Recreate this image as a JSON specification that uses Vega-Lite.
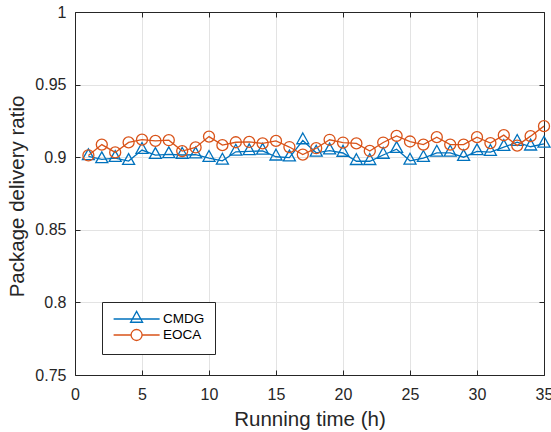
{
  "$schema": "https://vega.github.io/schema/vega-lite/v6.json",
  "width": 469,
  "height": 363,
  "autosize": "none",
  "padding": {"left": 75, "top": 12, "right": 7, "bottom": 57},
  "background": "white",
  "config": {
    "font": "Liberation Sans",
    "view": {"stroke": null},
    "axis": {
      "domainColor": "#262626",
      "domainWidth": 1,
      "tickColor": "#262626",
      "tickWidth": 1,
      "tickSize": -5,
      "labelColor": "#262626",
      "labelFont": "Liberation Sans",
      "labelFontSize": 16,
      "labelFlush": false,
      "titleFont": "Liberation Sans",
      "titleFontSize": 20.5,
      "titleFontWeight": "normal",
      "titleColor": "#262626",
      "gridColor": "#e3e3e3",
      "gridWidth": 1
    }
  },
  "data": {
    "values": [
      {"t": 1, "series": "CMDG", "ratio": 0.9005},
      {"t": 2, "series": "CMDG", "ratio": 0.8985},
      {"t": 3, "series": "CMDG", "ratio": 0.8993},
      {"t": 4, "series": "CMDG", "ratio": 0.8973},
      {"t": 5, "series": "CMDG", "ratio": 0.9049},
      {"t": 6, "series": "CMDG", "ratio": 0.9014},
      {"t": 7, "series": "CMDG", "ratio": 0.9019},
      {"t": 8, "series": "CMDG", "ratio": 0.9015},
      {"t": 9, "series": "CMDG", "ratio": 0.9017},
      {"t": 10, "series": "CMDG", "ratio": 0.8994},
      {"t": 11, "series": "CMDG", "ratio": 0.8975},
      {"t": 12, "series": "CMDG", "ratio": 0.9037},
      {"t": 13, "series": "CMDG", "ratio": 0.904},
      {"t": 14, "series": "CMDG", "ratio": 0.9043},
      {"t": 15, "series": "CMDG", "ratio": 0.9003},
      {"t": 16, "series": "CMDG", "ratio": 0.8997},
      {"t": 17, "series": "CMDG", "ratio": 0.9115},
      {"t": 18, "series": "CMDG", "ratio": 0.903},
      {"t": 19, "series": "CMDG", "ratio": 0.9045},
      {"t": 20, "series": "CMDG", "ratio": 0.9029},
      {"t": 21, "series": "CMDG", "ratio": 0.8972},
      {"t": 22, "series": "CMDG", "ratio": 0.8972},
      {"t": 23, "series": "CMDG", "ratio": 0.9015},
      {"t": 24, "series": "CMDG", "ratio": 0.9055},
      {"t": 25, "series": "CMDG", "ratio": 0.8975},
      {"t": 26, "series": "CMDG", "ratio": 0.8994},
      {"t": 27, "series": "CMDG", "ratio": 0.903},
      {"t": 28, "series": "CMDG", "ratio": 0.903},
      {"t": 29, "series": "CMDG", "ratio": 0.9},
      {"t": 30, "series": "CMDG", "ratio": 0.904},
      {"t": 31, "series": "CMDG", "ratio": 0.9035},
      {"t": 32, "series": "CMDG", "ratio": 0.9069},
      {"t": 33, "series": "CMDG", "ratio": 0.9104},
      {"t": 34, "series": "CMDG", "ratio": 0.9072},
      {"t": 35, "series": "CMDG", "ratio": 0.9092},
      {"t": 1, "series": "EOCA", "ratio": 0.9012},
      {"t": 2, "series": "EOCA", "ratio": 0.9087},
      {"t": 3, "series": "EOCA", "ratio": 0.9033},
      {"t": 4, "series": "EOCA", "ratio": 0.9102},
      {"t": 5, "series": "EOCA", "ratio": 0.9121},
      {"t": 6, "series": "EOCA", "ratio": 0.9112},
      {"t": 7, "series": "EOCA", "ratio": 0.9117},
      {"t": 8, "series": "EOCA", "ratio": 0.9042},
      {"t": 9, "series": "EOCA", "ratio": 0.9067},
      {"t": 10, "series": "EOCA", "ratio": 0.9142},
      {"t": 11, "series": "EOCA", "ratio": 0.9083},
      {"t": 12, "series": "EOCA", "ratio": 0.9103},
      {"t": 13, "series": "EOCA", "ratio": 0.9105},
      {"t": 14, "series": "EOCA", "ratio": 0.9095},
      {"t": 15, "series": "EOCA", "ratio": 0.9112},
      {"t": 16, "series": "EOCA", "ratio": 0.907},
      {"t": 17, "series": "EOCA", "ratio": 0.9018},
      {"t": 18, "series": "EOCA", "ratio": 0.9062},
      {"t": 19, "series": "EOCA", "ratio": 0.912},
      {"t": 20, "series": "EOCA", "ratio": 0.9101},
      {"t": 21, "series": "EOCA", "ratio": 0.9095},
      {"t": 22, "series": "EOCA", "ratio": 0.9043},
      {"t": 23, "series": "EOCA", "ratio": 0.9101},
      {"t": 24, "series": "EOCA", "ratio": 0.9147},
      {"t": 25, "series": "EOCA", "ratio": 0.9108},
      {"t": 26, "series": "EOCA", "ratio": 0.9087},
      {"t": 27, "series": "EOCA", "ratio": 0.9138},
      {"t": 28, "series": "EOCA", "ratio": 0.9087},
      {"t": 29, "series": "EOCA", "ratio": 0.9087},
      {"t": 30, "series": "EOCA", "ratio": 0.9138},
      {"t": 31, "series": "EOCA", "ratio": 0.9097},
      {"t": 32, "series": "EOCA", "ratio": 0.9152},
      {"t": 33, "series": "EOCA", "ratio": 0.908},
      {"t": 34, "series": "EOCA", "ratio": 0.9145},
      {"t": 35, "series": "EOCA", "ratio": 0.9214}
    ]
  },
  "layer": [
    {
      "encoding": {
        "x": {
          "field": "t", "type": "quantitative",
          "scale": {"domain": [0, 35], "nice": false, "zero": false},
          "axis": {"orient": "bottom", "values": [0, 5, 10, 15, 20, 25, 30, 35], "format": "d", "grid": true, "labelPadding": 16, "title": "Running time (h)", "titleX": 234.5, "titleY": 50, "titleBaseline": "alphabetic", "titleAnchor": null}
        },
        "y": {
          "field": "ratio", "type": "quantitative",
          "scale": {"domain": [0.75, 1], "nice": false, "zero": false},
          "axis": {"orient": "left", "values": [0.75, 0.8, 0.85, 0.9, 0.95, 1], "format": "~g", "grid": true, "labelPadding": 14, "title": "Package delivery ratio", "titleX": -52, "titleY": 184, "titleAngle": -90, "titleBaseline": "alphabetic", "titleAlign": "center"}
        }
      },
      "layer": [
        {
          "transform": [{"filter": "datum.series == 'CMDG'"}],
          "mark": {"type": "line", "color": "#0072BD", "strokeWidth": 1.3}
        },
        {
          "transform": [{"filter": "datum.series == 'CMDG'"}],
          "mark": {"type": "point", "shape": "M0,-1.26L1,0.54H-1Z", "size": 144, "filled": false, "color": "#0072BD", "strokeWidth": 1.3, "opacity": 1}
        },
        {
          "transform": [{"filter": "datum.series == 'EOCA'"}],
          "mark": {"type": "line", "color": "#D95319", "strokeWidth": 1.3}
        },
        {
          "transform": [{"filter": "datum.series == 'EOCA'"}],
          "mark": {"type": "point", "shape": "circle", "size": 121, "filled": false, "color": "#D95319", "strokeWidth": 1.3, "opacity": 1}
        }
      ]
    },
    {
      "transform": [{"filter": "false"}],
      "mark": {"type": "point", "filled": false, "strokeWidth": 1.3, "opacity": 1},
      "encoding": {
        "x": {"field": "t", "type": "quantitative", "axis": {"orient": "top", "values": [0, 5, 10, 15, 20, 25, 30, 35], "labels": false, "grid": false, "title": null}},
        "y": {"field": "ratio", "type": "quantitative", "axis": {"orient": "right", "values": [0.75, 0.8, 0.85, 0.9, 0.95, 1], "labels": false, "grid": false, "title": null}},
        "color": {
          "field": "series", "type": "nominal",
          "scale": {"domain": ["CMDG", "EOCA"], "range": ["#0072BD", "#D95319"]},
          "legend": {
            "title": null, "orient": "none", "legendX": 27, "legendY": 290,
            "strokeColor": "#262626", "fillColor": "white", "padding": 10,
            "symbolSize": 144, "symbolStrokeWidth": 1.3, "symbolOpacity": 1,
            "labelFont": "Liberation Sans", "labelFontSize": 13.5, "labelColor": "#000000",
            "labelOffset": 37, "rowPadding": 0
          }
        },
        "shape": {
          "field": "series", "type": "nominal",
          "scale": {"domain": ["CMDG", "EOCA"], "range": ["M-0.9,0H6.77M2.93,-1.26L3.93,0.54H1.93Z", "M-0.9,0H2.013M3.847,0H6.77M3.847,0A0.917,0.917,0,1,1,2.013,0A0.917,0.917,0,1,1,3.847,0Z"]},
          "legend": {
            "title": null, "orient": "none", "legendX": 27, "legendY": 290,
            "strokeColor": "#262626", "fillColor": "white", "padding": 10,
            "symbolSize": 144, "symbolStrokeWidth": 1.3, "symbolOpacity": 1,
            "labelFont": "Liberation Sans", "labelFontSize": 13.5, "labelColor": "#000000",
            "labelOffset": 37, "rowPadding": 0
          }
        }
      }
    }
  ],
  "resolve": {"axis": {"x": "independent", "y": "independent"}}
}
